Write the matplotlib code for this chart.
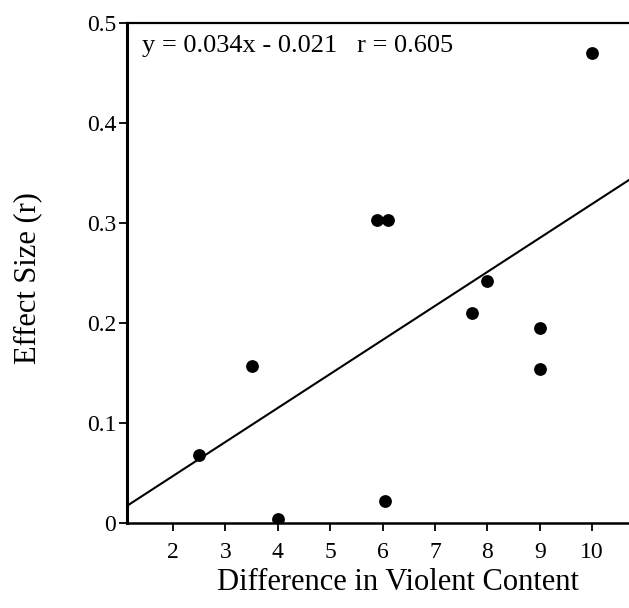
import matplotlib
matplotlib.use("Agg")
import matplotlib.pyplot as plt
import numpy as np

# Data
violent_diff = [2.5, 3.5, 4.0, 5.9, 6.1, 6.05, 7.7, 8.0, 9.0, 9.0, 10.0]
effect_size = [0.068, 0.157, 0.004, 0.303, 0.303, 0.022, 0.210, 0.242, 0.195, 0.154, 0.470]
slope = 0.034
intercept = -0.021
r_value = 0.605
x_ticks = [2, 3, 4, 5, 6, 7, 8, 9, 10]
y_ticks = [0, 0.1, 0.2, 0.3, 0.4, 0.5]
y_tick_labels = ["0", "0.1", "0.2", "0.3", "0.4", "0.5"]

plt.rcParams['font.family'] = ['Liberation Serif', 'DejaVu Serif']

fig = plt.figure(figsize=(6.29, 6.08), dpi=100)
ax = fig.add_axes([0.2014, 0.1398, 0.7986, 0.8224])

xlim = (1.116, 10.706)
ax.set_xlim(*xlim)
ax.set_ylim(0, 0.5)

xs = np.array(xlim)
ax.plot(xs, slope * xs + intercept, color='black', lw=1.5, zorder=2)
ax.scatter(violent_diff, effect_size, s=85, color='black', zorder=3, linewidths=0)

ax.set_xticks(x_ticks)
ax.set_xticklabels([str(t) for t in x_ticks])
ax.set_yticks(y_ticks)
ax.set_yticklabels(y_tick_labels)
ax.tick_params(axis='both', direction='out', length=5.5, width=1.3, labelsize=17, colors='black')
ax.tick_params(axis='x', pad=8)
ax.tick_params(axis='y', pad=2)

ax.spines['right'].set_visible(False)
ax.spines['left'].set_linewidth(2.2)
ax.spines['top'].set_linewidth(1.6)
ax.spines['bottom'].set_linewidth(1.8)

fig.text(398 / 629, 1 - 583 / 608, "Difference in Violent Content", fontsize=22,
         ha='center', va='center')
fig.text(28 / 629, 1 - 278 / 608, "Effect Size (r)", fontsize=22,
         ha='center', va='center', rotation=90)

fig.text(142 / 629, 1 - 46 / 608, f"y = {slope:.3f}x - {abs(intercept):.3f}   r = {r_value:.3f}",
         fontsize=19, ha='left', va='center')

fig.savefig("out.png", dpi=100)
